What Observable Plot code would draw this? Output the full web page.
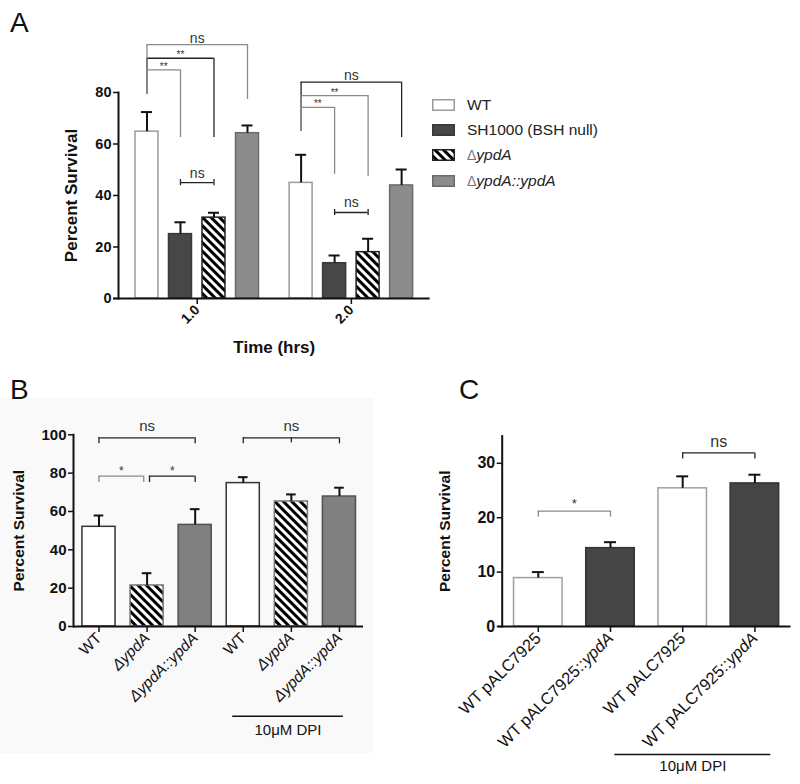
<!DOCTYPE html>
<html>
<head>
<meta charset="utf-8">
<script src="https://cdn.jsdelivr.net/npm/d3@7"></script>
<script src="https://cdn.jsdelivr.net/npm/@observablehq/plot@0.6"></script>
<style>
  body { margin: 0; background: #fff; }
  #fig { position: relative; width: 800px; height: 784px; overflow: hidden; background: #fff;
         font-family: "Liberation Sans", Arial, Helvetica, sans-serif; color: #111; }
  .panel { position: absolute; }
  .letter { position: absolute; font-size: 28px; line-height: 1; color: #111; }
  .bgB { position: absolute; left: 0; top: 398px; width: 373px; height: 355px; background: #f9f9f9; }
  .legend { position: absolute; left: 432px; top: 92px; font-size: 15.5px; color: #222; }
  .legend .row { display: flex; align-items: center; height: 25.3px; }
  .legend svg { margin-right: 12px; display: block; }
  .legend i { font-style: italic; }
  .legend .delta { color: #777; font-style: normal; font-size: 14px; }
</style>
</head>
<body>
<svg width="0" height="0" style="position:absolute">
  <defs>
    <pattern id="hatch" patternUnits="userSpaceOnUse" width="6" height="6" patternTransform="rotate(-45)">
      <rect width="6" height="6" fill="#fff"></rect>
      <rect width="3" height="6" fill="#000"></rect>
    </pattern>
  </defs>
</svg>
<div id="fig">
  <div class="bgB"></div>
  <div class="letter" style="left:10px;top:9px;">A</div>
  <div class="letter" style="left:10px;top:376px;">B</div>
  <div class="letter" style="left:459px;top:376px;">C</div>
  <div class="legend" id="legend"></div>
  <div class="panel" id="panelA" style="left:0;top:0;"></div>
  <div class="panel" id="panelB" style="left:0;top:390px;"></div>
  <div class="panel" id="panelC" style="left:420px;top:390px;"></div>
</div>
<script>
// ---------------- DATA ----------------
// Panel A
const timesA = ["1.0", "2.0"];
const strainsA = ["WT", "SH1000 (BSH null)", "ΔypdA", "ΔypdA::ypdA"];
const meanA = [[64.8, 25.0, 31.4, 64.2], [44.9, 13.7, 18.0, 43.9]];
const semA  = [[7.6, 4.6, 1.9, 3.0], [10.9, 3.0, 5.2, 6.2]];
const yTicksA = [0, 20, 40, 60, 80];
// significance brackets (group index, strain indices, levels in % survival)
const bracketsA = [
  {g: 0, from: 0, to: 3, y: 98.6, footA: 79.2, footB: 77.3, label: "ns", tone: "gray"},
  {g: 0, from: 0, to: 2, y: 93.3, footA: 79.2, footB: 62.5, label: "**", tone: "dark"},
  {g: 0, from: 0, to: 1, y: 88.8, footA: 79.2, footB: 62.5, label: "**", tone: "gray"},
  {g: 1, from: 0, to: 3, y: 84.0, footA: 64.9, footB: 62.5, label: "ns", tone: "dark"},
  {g: 1, from: 0, to: 2, y: 78.8, footA: 64.9, footB: 47.4, label: "**", tone: "gray"},
  {g: 1, from: 0, to: 1, y: 74.2, footA: 64.9, footB: 48.2, label: "**", tone: "gray"}
];
const spansA = [
  {g: 0, from: 1, to: 2, y: 45.0, label: "ns"},
  {g: 1, from: 1, to: 2, y: 33.4, label: "ns"}
];

// Panel B
const labelsB = ["WT", "ΔypdA", "ΔypdA::ypdA", "WT", "ΔypdA", "ΔypdA::ypdA"];
const dpiB = [false, false, false, true, true, true];
const meanB = [52.0, 21.4, 53.0, 74.8, 65.2, 67.8];
const semB  = [5.9, 6.4, 8.2, 3.1, 3.7, 4.6];
const yTicksB = [0, 20, 40, 60, 80, 100];
const bracketsB = [
  {from: 0, to: 2, y: 98.4, footA: 95.3, footB: 95.3, label: "ns", tone: "dark"},
  {from: 3, to: 5, y: 98.4, footA: 95.3, footB: 95.3, mid: 4, footM: 95.8, label: "ns", tone: "dark"},
  {from: 0, to: 0.93, y: 78.4, footA: 75.1, footB: 75.1, label: "*", tone: "gray"},
  {from: 1.05, to: 2, y: 78.4, footA: 75.1, footB: 75.1, label: "*", tone: "dark"}
];

// Panel C
const labelsC = ["WT pALC7925", "WT pALC7925::ypdA", "WT pALC7925", "WT pALC7925::ypdA"];
const dpiC = [false, false, true, true];
const meanC = [8.9, 14.4, 25.4, 26.3];
const semC  = [1.1, 1.1, 2.2, 1.6];
const yTicksC = [0, 10, 20, 30];
const bracketsC = [
  {from: 0, to: 1, y: 21.2, footA: 20.1, footB: 20.1, label: "*", tone: "gray"},
  {from: 2, to: 3, y: 31.9, footA: 30.8, footB: 30.8, label: "ns", tone: "dark"}
];
const dpiLabel = "10μM DPI";

// ---------------- STYLE ----------------
const FONT = '"Liberation Sans", Arial, Helvetica, sans-serif';
const INK = "#111";
const TONES = {dark: "#222", gray: "#8a8a8a"};
const styleA = {
  "WT": {fill: "#fff", stroke: "#9a9a9a"},
  "SH1000 (BSH null)": {fill: "#474747", stroke: "#383838"},
  "ΔypdA": {fill: "url(#hatch)", stroke: "#222"},
  "ΔypdA::ypdA": {fill: "#8c8c8c", stroke: "#6a6a6a"}
};
const styleB = {
  "WT": {fill: "#fff", stroke: "#333"},
  "ΔypdA": {fill: "url(#hatch)", stroke: "#777"},
  "ΔypdA::ypdA": {fill: "#808080", stroke: "#505050"}
};
const styleC = {
  "WT pALC7925": {fill: "#fff", stroke: "#a0a0a0"},
  "WT pALC7925::ypdA": {fill: "#454545", stroke: "#333"}
};

// ---------------- HELPERS ----------------
function bracketMarks(list, sw) {
  const marks = [];
  for (const tone of Object.keys(TONES)) {
    const d = list.filter(b => b.tone === tone);
    if (!d.length) continue;
    const stroke = TONES[tone];
    marks.push(Plot.ruleY(d, {x1: "xa", x2: "xb", y: "y", stroke, strokeWidth: sw}));
    marks.push(Plot.ruleX(d, {x: "xa", y1: "y", y2: "footA", stroke, strokeWidth: sw}));
    marks.push(Plot.ruleX(d, {x: "xb", y1: "y", y2: "footB", stroke, strokeWidth: sw}));
    const m = d.filter(b => b.xm != null);
    if (m.length) marks.push(Plot.ruleX(m, {x: "xm", y1: "y", y2: "footM", stroke, strokeWidth: sw}));
  }
  return marks;
}
function barMarks(data, styles, half, capHalf, sw) {
  const marks = [];
  for (const key of Object.keys(styles)) {
    const d = data.filter(r => r.key === key);
    marks.push(Plot.rect(d, {x1: r => r.x - half, x2: r => r.x + half, y1: 0, y2: "mean",
      fill: styles[key].fill, stroke: styles[key].stroke, strokeWidth: sw}));
  }
  marks.push(Plot.ruleX(data, {x: "x", y1: "mean", y2: r => r.mean + r.sem, stroke: INK, strokeWidth: 2}));
  marks.push(Plot.ruleY(data, {y: r => r.mean + r.sem, x1: r => r.x - capHalf, x2: r => r.x + capHalf, stroke: INK, strokeWidth: 2}));
  return marks;
}
function yTitle(dx, fontSize) {
  return Plot.text(["Percent Survival"], {frameAnchor: "left", text: d => d, rotate: -90, textAnchor: "middle",
    lineAnchor: "middle", dx, fontWeight: "bold", fontSize, fill: INK});
}

// ---------------- PANEL A ----------------
const GROUP_SPAN = 4.6; // layout: bar slots per time group incl. gap
const dataA = timesA.flatMap((t, g) => strainsA.map((s, i) => ({
  key: s, time: t, x: g * GROUP_SPAN + i, mean: meanA[g][i], sem: semA[g][i]
})));
const brA = bracketsA.map(b => ({...b, xa: b.g * GROUP_SPAN + b.from, xb: b.g * GROUP_SPAN + b.to,
  xl: b.g * GROUP_SPAN + (b.from + b.to) / 2}));
const spA = spansA.map(b => ({...b, xa: b.g * GROUP_SPAN + b.from, xb: b.g * GROUP_SPAN + b.to,
  xl: b.g * GROUP_SPAN + (b.from + b.to) / 2}));
const tickXA = timesA.map((t, g) => g * GROUP_SPAN + (strainsA.length - 1) / 2);
const tickLabelA = new Map(tickXA.map((v, g) => [v, timesA[g]]));

const plotA = Plot.plot({
  width: 440, height: 372,
  marginLeft: 118, marginRight: 10.4, marginTop: 92, marginBottom: 74,
  style: {fontFamily: FONT, background: "transparent", overflow: "visible", color: INK},
  x: {domain: [-0.85, 8.45]},
  y: {domain: [0, 80]},
  marks: [
    ...barMarks(dataA, styleA, 0.343, 0.165, 1.5),
    ...bracketMarks(brA, 1.3),
    Plot.ruleY(spA, {x1: "xa", x2: "xb", y: "y", stroke: TONES.dark, strokeWidth: 1.3}),
    Plot.ruleX(spA, {x: "xa", y1: d => d.y - 1.2, y2: d => d.y + 1.2, stroke: TONES.dark, strokeWidth: 1.3}),
    Plot.ruleX(spA, {x: "xb", y1: d => d.y - 1.2, y2: d => d.y + 1.2, stroke: TONES.dark, strokeWidth: 1.3}),
    Plot.text(brA.filter(d => d.label === "ns"), {x: "xl", y: "y", text: "label", lineAnchor: "bottom", dy: -2, fontSize: 14, fill: "#333"}),
    Plot.text(brA.filter(d => d.label !== "ns"), {x: "xl", y: "y", text: "label", lineAnchor: "bottom", dy: 0, fontSize: 10, fill: "#333"}),
    Plot.text(spA, {x: "xl", y: "y", text: "label", lineAnchor: "bottom", dy: -5, fontSize: 14, fill: "#333"}),
    Plot.frame({anchor: "left", stroke: INK, strokeWidth: 2}),
    Plot.ruleY([0], {stroke: INK, strokeWidth: 2, insetLeft: -5}),
    Plot.axisY({ticks: yTicksA, tickSize: 5, tickPadding: 2, fontWeight: "bold", fontSize: 14.5, label: null, strokeWidth: 1.5}),
    Plot.axisX({ticks: tickXA, tickFormat: d => tickLabelA.get(d), tickRotate: -45, tickSize: 6, tickPadding: 3,
      fontWeight: "bold", fontSize: 14, label: null, strokeWidth: 1.5}),
    yTitle(-46.5, 17),
    Plot.text(["Time (hrs)"], {frameAnchor: "bottom", text: d => d, dy: 54, fontWeight: "bold", fontSize: 17, fill: INK})
  ]
});
document.getElementById("panelA").appendChild(plotA);

// legend A
const legend = document.getElementById("legend");
for (const s of strainsA) {
  const row = document.createElement("div");
  row.className = "row";
  const st = styleA[s];
  row.innerHTML = `<svg width="23" height="12"><rect x="0.75" y="0.75" width="21.5" height="10.5" fill="${st.fill}" stroke="${st.stroke}" stroke-width="1.5"></rect></svg>`;
  const span = document.createElement("span");
  if (s.startsWith("Δ")) {
    span.innerHTML = `<span class="delta">Δ</span><i>${s.slice(1)}</i>`;
  } else {
    span.textContent = s;
  }
  row.appendChild(span);
  legend.appendChild(row);
}

// ---------------- PANEL B ----------------
const dataB = labelsB.map((l, i) => ({key: l, x: i, dpi: dpiB[i], mean: meanB[i], sem: semB[i]}));
const brB = bracketsB.map(b => ({...b, xa: b.from, xb: b.to, xm: b.mid, xl: (b.from + b.to) / 2}));
const dpiIdxB = dataB.filter(d => d.dpi).map(d => d.x);
const dpiSpanB = [{x1: d3.min(dpiIdxB) - 0.22, x2: d3.max(dpiIdxB) + 0.08}];
const plainB = dataB.filter(d => !d.key.startsWith("Δ")).map(d => d.x);
const italB = dataB.filter(d => d.key.startsWith("Δ")).map(d => d.x);

const plotB = Plot.plot({
  width: 420, height: 370,
  marginLeft: 73, marginRight: 57, marginTop: 44.3, marginBottom: 134,
  style: {fontFamily: FONT, background: "transparent", overflow: "visible", color: INK},
  x: {domain: [-0.53, 5.5]},
  y: {domain: [0, 100]},
  marks: [
    ...barMarks(dataB, styleB, 0.344, 0.1, 1.5),
    ...bracketMarks(brB, 1.3),
    Plot.text(brB.filter(d => d.label === "ns"), {x: "xl", y: "y", text: "label", lineAnchor: "bottom", dy: -7, fontSize: 15, fill: "#333"}),
    Plot.text(brB.filter(d => d.label !== "ns"), {x: "xl", y: "y", text: "label", lineAnchor: "bottom", dy: -1, fontSize: 12, fill: "#333"}),
    Plot.frame({anchor: "left", stroke: INK, strokeWidth: 2}),
    Plot.ruleY([0], {stroke: INK, strokeWidth: 2}),
    Plot.axisY({ticks: yTicksB, tickSize: 5, tickPadding: 2, fontWeight: "bold", fontSize: 15, label: null, strokeWidth: 1.5}),
    Plot.axisX({ticks: plainB, tickFormat: d => labelsB[d], tickRotate: -45, tickSize: 6, tickPadding: 3, fontSize: 15.5, label: null, strokeWidth: 1.5}),
    Plot.axisX({ticks: italB, tickFormat: d => labelsB[d], tickRotate: -45, tickSize: 6, tickPadding: 3, fontSize: 15.5, fontStyle: "italic", label: null, strokeWidth: 1.5}),
    Plot.ruleY(dpiSpanB, {x1: "x1", x2: "x2", y: 0, dy: 89.7, stroke: INK, strokeWidth: 1.6}),
    Plot.text(dpiSpanB, {x: d => (d.x1 + d.x2) / 2, y: 0, text: () => dpiLabel, dy: 104, fontSize: 15, fill: INK}),
    yTitle(-54.5, 15.5)
  ]
});
document.getElementById("panelB").appendChild(plotB);

// ---------------- PANEL C ----------------
const dataC = labelsC.map((l, i) => ({key: l, x: i, dpi: dpiC[i], mean: meanC[i], sem: semC[i]}));
const brC = bracketsC.map(b => ({...b, xa: b.from, xb: b.to, xl: (b.from + b.to) / 2}));
const dpiIdxC = dataC.filter(d => d.dpi).map(d => d.x);
const dpiSpanC = [{x1: d3.min(dpiIdxC) - 0.94, x2: d3.max(dpiIdxC) + 0.22}];

const plotC = Plot.plot({
  width: 380, height: 390,
  marginLeft: 81.7, marginRight: 9.5, marginTop: 45.6, marginBottom: 154,
  style: {fontFamily: FONT, background: "transparent", overflow: "visible", color: INK},
  x: {domain: [-0.5, 3.5]},
  y: {domain: [0, 35]},
  marks: [
    ...barMarks(dataC, styleC, 0.336, 0.083, 1.5),
    ...bracketMarks(brC, 1.3),
    Plot.text(brC.filter(d => d.label === "ns"), {x: "xl", y: "y", text: "label", lineAnchor: "bottom", dy: -6, fontSize: 16, fill: "#333"}),
    Plot.text(brC.filter(d => d.label !== "ns"), {x: "xl", y: "y", text: "label", lineAnchor: "bottom", dy: -3, fontSize: 13, fill: "#333"}),
    Plot.frame({anchor: "left", stroke: INK, strokeWidth: 2}),
    Plot.ruleY([0], {stroke: INK, strokeWidth: 2, insetLeft: -4}),
    Plot.axisY({ticks: yTicksC, tickSize: 5, tickPadding: 2, fontWeight: "bold", fontSize: 16, label: null, strokeWidth: 1.5}),
    Plot.axisX({ticks: dataC.map(d => d.x), tickFormat: d => labelsC[d], tickRotate: -45, tickSize: 6, tickPadding: 3, fontSize: 16.5, label: null, strokeWidth: 1.5}),
    Plot.ruleY(dpiSpanC, {x1: "x1", x2: "x2", y: 0, dy: 128, stroke: INK, strokeWidth: 1.6}),
    Plot.text(dpiSpanC, {x: d => (d.x1 + d.x2) / 2, y: 0, text: () => dpiLabel, dy: 140, fontSize: 15, fill: INK}),
    yTitle(-56.7, 15.5)
  ]
});
document.getElementById("panelC").appendChild(plotC);

// italicise the gene name inside "WT pALC7925::ypdA" tick labels
plotC.querySelectorAll("text").forEach(t => {
  if (t.childElementCount === 0 && t.textContent.endsWith("::ypdA")) {
    const full = t.textContent;
    const head = full.slice(0, full.length - 4);
    t.textContent = "";
    const a = document.createElementNS("http://www.w3.org/2000/svg", "tspan");
    a.textContent = head;
    const b = document.createElementNS("http://www.w3.org/2000/svg", "tspan");
    b.textContent = "ypdA";
    b.setAttribute("font-style", "italic");
    t.appendChild(a); t.appendChild(b);
  }
});
</script>
</body>
</html>
